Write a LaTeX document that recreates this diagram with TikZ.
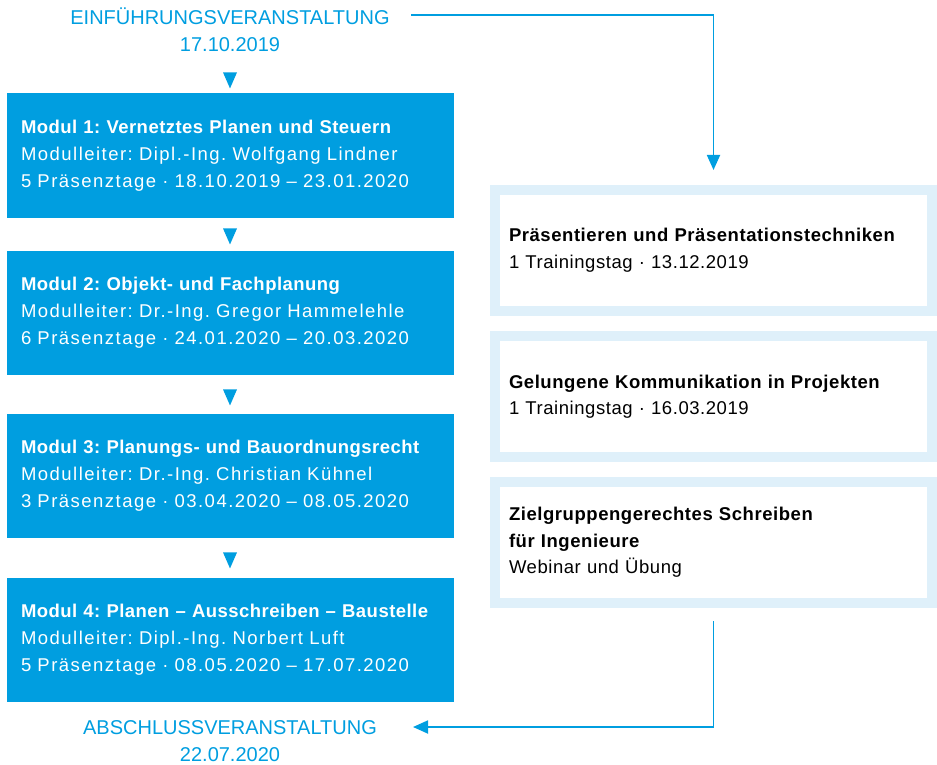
\documentclass[tikz,border=0pt]{standalone}
\usepackage{xcolor}
\usepackage{fontspec}
\usepackage{tikz}
\usetikzlibrary{arrows.meta, shapes.geometric}

\setmainfont{Liberation Sans}
\newfontfamily\modfont[UprightFeatures={LetterSpace=8}, BoldFeatures={LetterSpace=2.5}]{Liberation Sans}
\newfontfamily\kursfont[LetterSpace=3]{Liberation Sans}
\frenchspacing

\definecolor{fhblue}{RGB}{0,158,224}
\definecolor{fhlight}{RGB}{223,240,250}

\tikzset{
    event/.style={align=center, inner sep=0pt, text=fhblue, font=\fontsize{20}{27}\selectfont},
    modul/.style={rectangle, fill=fhblue, text=white, minimum width=447pt, minimum height=124pt, text width=419pt, inner xsep=14pt, align=left, font=\modfont\fontsize{18.5}{27}\selectfont},
    kurs/.style={rectangle, draw=fhlight, line width=10pt, fill=white, minimum width=437pt, minimum height=121pt, text width=409pt, inner xsep=14pt, align=left, font=\kursfont\fontsize{18.5}{26.5}\selectfont},
    marker/.style={isosceles triangle, isosceles triangle stretches, shape border rotate=-90, fill=fhblue, inner sep=0pt, minimum width=14pt, minimum height=16pt},
    link/.style={draw=fhblue, line width=1.8pt, -{Triangle[width=13pt, length=15pt]}}
}

\begin{document}
\begin{tikzpicture}[x=1pt, y=-1pt]
    \useasboundingbox (0, 0) rectangle (937, 765);

    % Veranstaltungen
    \node[event] at (230, 30) (start) {EINFÜHRUNGSVERANSTALTUNG\\17.10.2019};
    \node[event] at (230, 741) (finish) {ABSCHLUSSVERANSTALTUNG\\22.07.2020};

    % Module
    \node[modul] at (230.5, 155.5) (M1) {\textbf{Modul 1: Vernetztes Planen und Steuern}\\Modulleiter: Dipl.-Ing. Wolfgang Lindner\\5 Präsenztage · 18.10.2019 – 23.01.2020};
    \node[modul] at (230.5, 312.5) (M2) {\textbf{Modul 2: Objekt- und Fachplanung}\\Modulleiter: Dr.-Ing. Gregor Hammelehle\\6 Präsenztage · 24.01.2020 – 20.03.2020};
    \node[modul] at (230.5, 475.5) (M3) {\textbf{Modul 3: Planungs- und Bauordnungsrecht}\\Modulleiter: Dr.-Ing. Christian Kühnel\\3 Präsenztage · 03.04.2020 – 08.05.2020};
    \node[modul] at (230.5, 639.5) (M4) {\textbf{Modul 4: Planen – Ausschreiben – Baustelle}\\Modulleiter: Dipl.-Ing. Norbert Luft\\5 Präsenztage · 08.05.2020 – 17.07.2020};

    % Marker zwischen den Modulen
    \node[marker] at (230, 77) (T0) {};
    \node[marker] at (230, 233) (T1) {};
    \node[marker] at (230, 394) (T2) {};
    \node[marker] at (230, 557) (T3) {};

    % Trainings
    \node[kurs] at (713.5, 250) (K1) {\textbf{Präsentieren und Präsentationstechniken}\\1 Trainingstag · 13.12.2019};
    \node[kurs] at (713.5, 396.5) (K2) {\textbf{Gelungene Kommunikation in Projekten}\\1 Trainingstag · 16.03.2019};
    \node[kurs] at (713.5, 542.5) (K3) {\textbf{Zielgruppengerechtes Schreiben}\\\textbf{für Ingenieure}\\Webinar und Übung};

    \coordinate (startout) at (411, 15);
    \coordinate (finishin) at (413, 727);

    \draw[link, shorten >=14.5pt] (startout) -| (K1.north);
    \draw[link, shorten <=13pt] (K3.south) |- (finishin);
\end{tikzpicture}
\end{document}
